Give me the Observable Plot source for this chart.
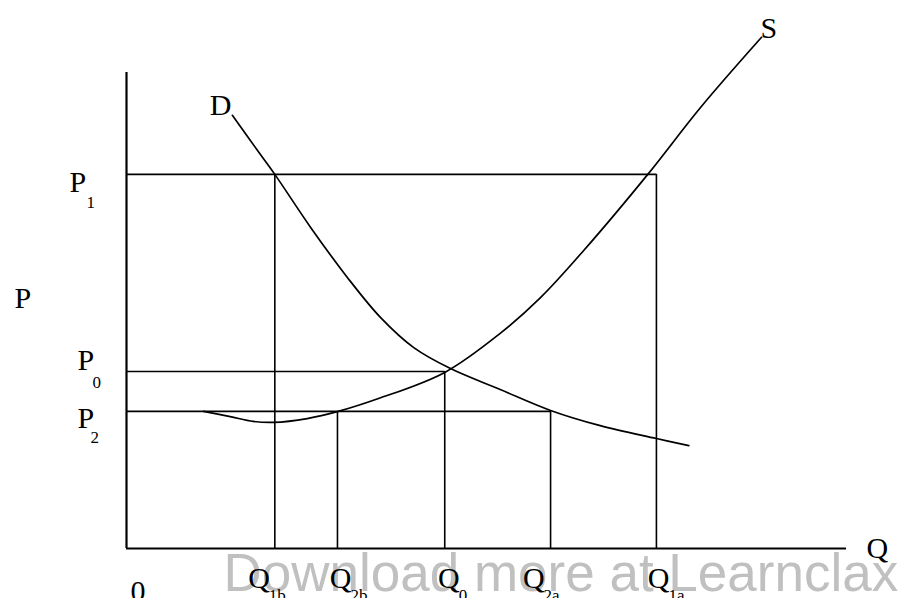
<!DOCTYPE html>
<html>
<head>
<meta charset="utf-8">
<script src="https://cdn.jsdelivr.net/npm/d3@7"></script>
<script src="https://cdn.jsdelivr.net/npm/@observablehq/plot@0.6"></script>
<style>
  html, body { margin: 0; padding: 0; background: #fff; }
  #chart svg { display: block; }
</style>
</head>
<body>
<div id="chart"></div>
<script>
// ---------- data (arbitrary units) ----------
const qNames  = ["1b", "2b", "0", "2a", "1a"];
const qValues = [20.6, 29.3, 44.2, 58.9, 73.6];
const pNames  = ["1", "0", "2"];
const pValues = [78.6, 37.2, 28.8];

const demandQ = [14.7, 18.2, 20.6, 25.6, 30.7, 35.3, 39.9, 45.0, 51.9, 58.9, 65.8, 73.6, 78.1];
const demandP = [91.0, 83.6, 78.6, 67.4, 56.9, 48.5, 42.2, 37.8, 33.4, 29.0, 25.8, 23.1, 21.6];

const supplyQ = [10.7, 14.4, 17.6, 20.4, 25.1, 29.4, 35.0, 44.2, 51.9, 57.5, 63.5, 72.4, 79.7, 88.2];
const supplyP = [28.8, 27.7, 26.7, 26.5, 27.3, 28.8, 31.5, 37.0, 45.2, 52.7, 62.6, 78.6, 92.6, 107.4];

const axisMax = 100;
const watermark = "Download more at Learnclax";

// ---------- layout (pixel offsets, styles) ----------
const serif = "Liberation Serif, Times New Roman, serif";
const qLabelDx = [-5, 14, 15, -6, 13];
const pLabelDx = [-57, -49, -49];
const pLabelDy = [18, -1, 17];
const pSubDx = [-40, -34, -36];
const pSubDy = [34, 17, 32];

// reference segments built from the data arrays
const hRules = [
  {P: pValues[0], Q: qValues[4]},
  {P: pValues[1], Q: qValues[2]},
  {P: pValues[2], Q: qValues[3]}
];
const vRules = [
  {Q: qValues[0], P: pValues[0]},
  {Q: qValues[4], P: pValues[0]},
  {Q: qValues[2], P: pValues[1]},
  {Q: qValues[1], P: pValues[2]},
  {Q: qValues[3], P: pValues[2]}
];

const marks = [];

// watermark (behind)
marks.push(Plot.text([watermark], {
  x: 0, y: 0, text: d => d, textAnchor: "start", lineAnchor: "bottom",
  dx: 97, dy: 42, fontSize: 53, fontFamily: "Liberation Sans, Arial, sans-serif",
  fill: "#c0c0c0"
}));

// reference lines
marks.push(Plot.ruleY(hRules, {y: "P", x1: 0, x2: "Q", stroke: "#000", strokeWidth: 1.6}));
marks.push(Plot.ruleX(vRules, {x: "Q", y1: 0, y2: "P", stroke: "#000", strokeWidth: 1.6}));

// axes
marks.push(Plot.ruleX([0], {y1: 0, y2: axisMax, stroke: "#000", strokeWidth: 2.2}));
marks.push(Plot.ruleY([0], {x1: 0, x2: axisMax, stroke: "#000", strokeWidth: 2.2}));

// curves
marks.push(Plot.line(d3.range(demandQ.length), {
  x: i => demandQ[i], y: i => demandP[i], curve: "catmull-rom",
  stroke: "#000", strokeWidth: 1.7
}));
marks.push(Plot.line(d3.range(supplyQ.length), {
  x: i => supplyQ[i], y: i => supplyP[i], curve: "catmull-rom",
  stroke: "#000", strokeWidth: 1.7
}));

// curve labels
marks.push(Plot.text(["D"], {
  x: demandQ[0], y: demandP[0], text: d => d, textAnchor: "end", lineAnchor: "bottom",
  dx: -1, dy: 0, fontSize: 30, fontFamily: serif, fill: "#000"
}));
marks.push(Plot.text(["S"], {
  x: supplyQ[supplyQ.length - 1], y: supplyP[supplyP.length - 1], text: d => d,
  textAnchor: "start", lineAnchor: "bottom", dx: -1, dy: 1,
  fontSize: 30, fontFamily: serif, fill: "#000"
}));

// axis titles and origin
marks.push(Plot.text(["P"], {
  x: 0, y: axisMax / 2, text: d => d, textAnchor: "start", lineAnchor: "bottom",
  dx: -112, dy: -3, fontSize: 30, fontFamily: serif, fill: "#000"
}));
marks.push(Plot.text(["Q"], {
  x: axisMax, y: 0, text: d => d, textAnchor: "start", lineAnchor: "bottom",
  dx: 20, dy: 9, fontSize: 30, fontFamily: serif, fill: "#000"
}));
marks.push(Plot.text(["0"], {
  x: 0, y: 0, text: d => d, textAnchor: "start", lineAnchor: "bottom",
  dx: 4, dy: 52, fontSize: 30, fontFamily: serif, fill: "#000"
}));

// quantity labels
qValues.forEach((q, i) => {
  marks.push(Plot.text([q], {
    x: d => d, y: 0, text: () => "Q", textAnchor: "end", lineAnchor: "bottom",
    dx: qLabelDx[i], dy: 39, fontSize: 30, fontFamily: serif, fill: "#000"
  }));
  marks.push(Plot.text([q], {
    x: d => d, y: 0, text: () => qNames[i], textAnchor: "start", lineAnchor: "bottom",
    dx: qLabelDx[i] - 1, dy: 52, fontSize: 17, fontFamily: serif, fill: "#000"
  }));
});

// price labels
pValues.forEach((p, i) => {
  marks.push(Plot.text([p], {
    x: 0, y: d => d, text: () => "P", textAnchor: "start", lineAnchor: "bottom",
    dx: pLabelDx[i], dy: pLabelDy[i], fontSize: 30, fontFamily: serif, fill: "#000"
  }));
  marks.push(Plot.text([p], {
    x: 0, y: d => d, text: () => pNames[i], textAnchor: "start", lineAnchor: "bottom",
    dx: pSubDx[i], dy: pSubDy[i], fontSize: 17, fontFamily: serif, fill: "#000"
  }));
});

const chart = Plot.plot({
  width: 898,
  height: 598,
  marginLeft: 126,
  marginRight: 52,
  marginTop: 72,
  marginBottom: 50,
  x: {domain: [0, axisMax], axis: null},
  y: {domain: [0, axisMax], axis: null},
  style: {background: "#fff", fontFamily: serif},
  marks
});
document.getElementById("chart").appendChild(chart);
</script>
</body>
</html>
